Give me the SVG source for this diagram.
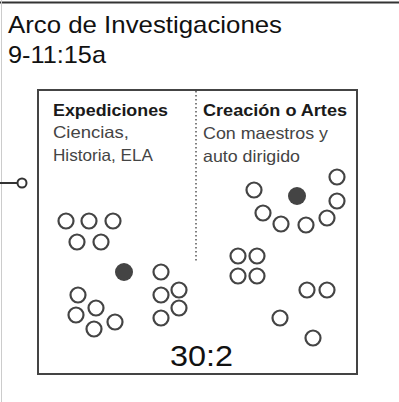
<svg xmlns="http://www.w3.org/2000/svg" width="399" height="402" viewBox="0 0 399 402">
<style>
.t{font-family:"Liberation Sans",Arial,sans-serif;fill:#111}
.h{font-family:"Liberation Sans",Arial,sans-serif;font-weight:bold;font-size:16px;fill:#1a1a1a}
.s{font-family:"Liberation Sans",Arial,sans-serif;font-size:16.5px;fill:#444}
.c{fill:none;stroke:#444;stroke-width:2.2}
.f{fill:#444}
</style>
<rect width="399" height="402" fill="#fff"/>
<line x1="0" y1="2.5" x2="399" y2="2.5" stroke="#333" stroke-width="2"/>
<line x1="1.5" y1="0" x2="1.5" y2="402" stroke="#ccc" stroke-width="1"/>
<text class="t" x="8" y="33" font-size="24" textLength="274" lengthAdjust="spacingAndGlyphs">Arco de Investigaciones</text>
<text class="t" x="8" y="63" font-size="24" textLength="98" lengthAdjust="spacingAndGlyphs">9-11:15a</text>
<g id="connectors">
<line x1="0" y1="183" x2="18" y2="183" stroke="#333" stroke-width="2"/>
<circle cx="22" cy="183" r="4.5" fill="#fff" stroke="#333" stroke-width="2"/>
</g>
<g id="box">
<rect x="38" y="90" width="319" height="284" fill="none" stroke="#444" stroke-width="2"/>
<line x1="196" y1="91" x2="196" y2="262" stroke="#555" stroke-width="1.5" stroke-dasharray="1.5 2.5"/>
</g>
<g id="expediciones">
<text class="h" x="53" y="116" textLength="115" lengthAdjust="spacingAndGlyphs">Expediciones</text>
<text class="s" x="53" y="138" textLength="76" lengthAdjust="spacingAndGlyphs">Ciencias,</text>
<text class="s" x="53" y="161" textLength="100" lengthAdjust="spacingAndGlyphs">Historia, ELA</text>
</g>
<g id="creacion">
<text class="h" x="203" y="116" textLength="144" lengthAdjust="spacingAndGlyphs">Creación o Artes</text>
<text class="s" x="203" y="139" textLength="125" lengthAdjust="spacingAndGlyphs">Con maestros y</text>
<text class="s" x="203" y="162" textLength="97" lengthAdjust="spacingAndGlyphs">auto dirigido</text>
</g>
<g id="people">
<circle class="c" cx="66" cy="221" r="7.5"/>
<circle class="c" cx="89" cy="221" r="7.5"/>
<circle class="c" cx="113" cy="221" r="7.5"/>
<circle class="c" cx="77" cy="242" r="7.5"/>
<circle class="c" cx="101" cy="242" r="7.5"/>
<circle class="f" cx="124" cy="272" r="9"/>
<circle class="c" cx="78" cy="295" r="7.5"/>
<circle class="c" cx="76" cy="315" r="7.5"/>
<circle class="c" cx="96" cy="308" r="7.5"/>
<circle class="c" cx="115" cy="322" r="7.5"/>
<circle class="c" cx="94" cy="329" r="7.5"/>
<circle class="c" cx="161" cy="272" r="7.5"/>
<circle class="c" cx="161" cy="295" r="7.5"/>
<circle class="c" cx="179" cy="290" r="7.5"/>
<circle class="c" cx="161" cy="318" r="7.5"/>
<circle class="c" cx="179" cy="308" r="7.5"/>
<circle class="c" cx="254" cy="190" r="7.5"/>
<circle class="f" cx="297" cy="196" r="9"/>
<circle class="c" cx="337" cy="177" r="7.5"/>
<circle class="c" cx="337" cy="201" r="7.5"/>
<circle class="c" cx="263" cy="213" r="7.5"/>
<circle class="c" cx="281" cy="224" r="7.5"/>
<circle class="c" cx="306" cy="225" r="7.5"/>
<circle class="c" cx="327" cy="218" r="7.5"/>
<circle class="c" cx="238" cy="256" r="7.5"/>
<circle class="c" cx="257" cy="256" r="7.5"/>
<circle class="c" cx="238" cy="276" r="7.5"/>
<circle class="c" cx="257" cy="276" r="7.5"/>
<circle class="c" cx="307" cy="290" r="7.5"/>
<circle class="c" cx="327" cy="290" r="7.5"/>
<circle class="c" cx="280" cy="318" r="7.5"/>
<circle class="c" cx="313" cy="338" r="7.5"/>
</g>
<text class="t" x="170" y="366" font-size="30" textLength="63" lengthAdjust="spacingAndGlyphs">30:2</text>
</svg>
